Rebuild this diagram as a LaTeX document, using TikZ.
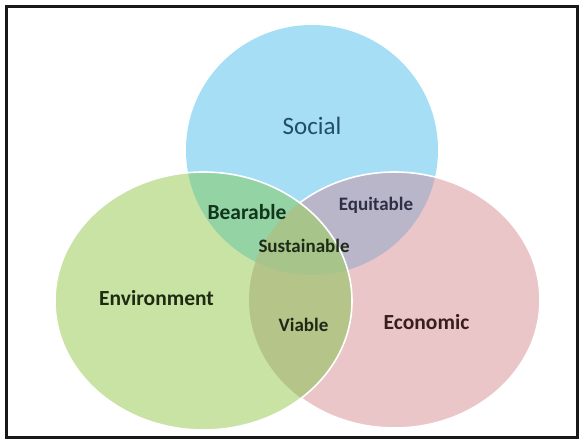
\documentclass[tikz,border=0pt]{standalone}
\usepackage{fontspec}
\setmainfont{Carlito}
\usetikzlibrary{positioning}

\definecolor{SocialFill}{HTML}{A6DEF6}
\definecolor{EnvFill}{HTML}{C8E3A4}
\definecolor{EconFill}{HTML}{EBC6C8}
\definecolor{BearFill}{HTML}{93D3A4}
\definecolor{EquiFill}{HTML}{B9B6CA}
\definecolor{ViaFill}{HTML}{B5C58A}
\definecolor{SustFill}{HTML}{A7C48B}

\definecolor{SocialInk}{HTML}{224C68}
\definecolor{EnvInk}{HTML}{1C2B12}
\definecolor{EconInk}{HTML}{3A1E1E}
\definecolor{BearInk}{HTML}{12361C}
\definecolor{EquiInk}{HTML}{2E2E44}
\definecolor{SustInk}{HTML}{1E2C17}
\definecolor{ViaInk}{HTML}{1E2615}

\begin{document}
\begin{tikzpicture}[x=1pt, y=-1pt]
			\tikzstyle{Edge}	= [draw=white, line width=1.6pt]
			\tikzstyle{Head}	= [font=\fontsize{25}{25}\selectfont, text=SocialInk]
			\tikzstyle{Big}		= [font=\fontsize{21.5}{21.5}\selectfont\bfseries, inner sep=0pt]
			\tikzstyle{Small}	= [font=\fontsize{19}{19}\selectfont\bfseries, inner sep=0pt]

			\useasboundingbox (0,0) rectangle (582,439);
			\fill[white] (0,0) rectangle (582,439);

			% the three sets
			\def\social{(312,150) ellipse [x radius=126pt, y radius=125pt]}
			\def\environ{(203.5,301) ellipse [x radius=148.5pt, y radius=129pt]}
			\def\econ{(394.5,300) ellipse [x radius=145.5pt, y radius=128pt]}

			\fill[SocialFill] \social;
			\fill[EconFill] \econ;
			\fill[EnvFill] \environ;

			% pairwise overlaps
			\begin{scope}
				\clip \social;
				\fill[BearFill] \environ;
				\fill[EquiFill] \econ;
			\end{scope}
			\begin{scope}
				\clip \environ;
				\fill[ViaFill] \econ;
				\clip \econ;
				\fill[SustFill] \social;
			\end{scope}

			% white rims
			\begin{scope}[even odd rule]
				\clip (0,0) rectangle (582,439) \environ;
				\draw[Edge] \econ;
			\end{scope}
			\draw[Edge] \environ;

			% labels
			\node (social) at (312,126) [Head] {Social};
			\node (env) at (156.5,298) [Big, text=EnvInk] {Environment};
			\node (eco) at (426.5,322) [Big, text=EconInk] {Economic};
			\node (bear) at (247,212) [Big, text=BearInk] {Bearable};
			\node (equi) at (376,205) [Small, text=EquiInk] {Equitable};
			\node (sust) at (304,246) [Small, text=SustInk] {Sustainable};
			\node (via) at (303.5,325) [Small, text=ViaInk] {Viable};

			\draw[line width=3pt, black!90] (6,6) rectangle (577,437);
		\end{tikzpicture}
\end{document}
